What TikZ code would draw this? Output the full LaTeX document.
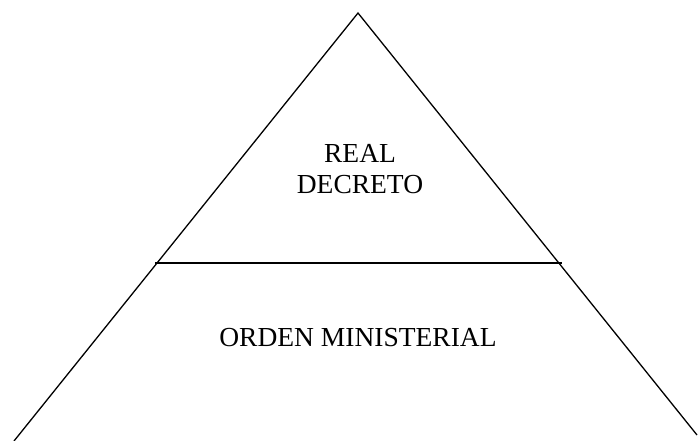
\documentclass[tikz,border=0pt]{standalone}
\usepackage{fontspec}
\setmainfont{Liberation Serif}
\usetikzlibrary{positioning}

\begin{document}
\begin{tikzpicture}[
  x=1pt, y=-1pt,
  edge/.style={line width=1.3pt},
  label/.style={align=center, inner sep=0pt, font=\fontsize{27.5}{31}\selectfont}
]
\useasboundingbox (0,0) rectangle (698,441);
\coordinate (top) at (358,13);
\coordinate (bl) at (14,441);
\coordinate (br) at (697,435);
\coordinate (cutl) at (155,263);
\coordinate (cutr) at (562,263);
\draw[edge] (bl) -- (top) -- (br);
\draw[edge] (cutl) -- (cutr);
\node[label, anchor=base] (rd1) at (360,162) {REAL};
\node[label, anchor=base] (rd2) at (360,193) {DECRETO};
\node[label, anchor=base] (om) at (358,346) {ORDEN MINISTERIAL};
\end{tikzpicture}
\end{document}
